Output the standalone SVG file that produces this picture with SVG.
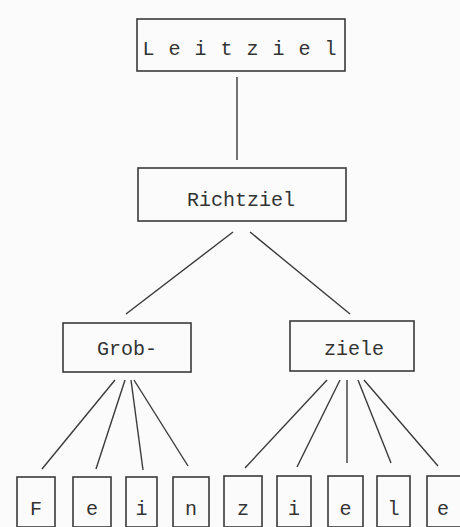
<svg xmlns="http://www.w3.org/2000/svg" width="460" height="527" viewBox="0 0 460 527">
<style>
rect{fill:none;stroke:#3a3a3a;stroke-width:1.6}
line{stroke:#3a3a3a;stroke-width:1.4}
text{font-family:"Liberation Mono","Courier New",monospace;font-size:20px;fill:#333;text-anchor:middle}
</style>
<rect x="0" y="0" width="460" height="527" style="fill:#fbfbfb;stroke:none"/>
<g id="connectors">
<line x1="237" y1="77" x2="237" y2="160"/>
<line x1="233" y1="232" x2="126" y2="314"/>
<line x1="250" y1="232" x2="350" y2="314"/>
<line x1="115" y1="380" x2="42" y2="469"/>
<line x1="125" y1="380" x2="96" y2="469"/>
<line x1="131" y1="380" x2="143" y2="470"/>
<line x1="134" y1="380" x2="188" y2="466"/>
<line x1="327" y1="380" x2="245" y2="468"/>
<line x1="340" y1="380" x2="297" y2="467"/>
<line x1="347" y1="380" x2="347" y2="463"/>
<line x1="358" y1="380" x2="391" y2="463"/>
<line x1="364" y1="380" x2="438" y2="466"/>
</g>
<g id="leitziel"><rect x="137" y="19" width="208" height="52"/><text x="240" y="55" style="letter-spacing:1px">L e i t z i e l</text></g>
<g id="richtziel"><rect x="138" y="168" width="208" height="53"/><text x="241" y="206">Richtziel</text></g>
<g id="grob"><rect x="63" y="323" width="128" height="49"/><text x="127" y="355">Grob-</text></g>
<g id="ziele"><rect x="290" y="321" width="124" height="50"/><text x="354" y="355">ziele</text></g>
<g id="b1"><rect x="17" y="477" width="38" height="50"/><text x="36" y="515">F</text></g>
<g id="b2"><rect x="73" y="477" width="38" height="50"/><text x="92" y="515">e</text></g>
<g id="b3"><rect x="126" y="477" width="31" height="50"/><text x="141.5" y="515">i</text></g>
<g id="b4"><rect x="173" y="477" width="36" height="50"/><text x="191" y="515">n</text></g>
<g id="b5"><rect x="224" y="476" width="38" height="51"/><text x="243" y="515">z</text></g>
<g id="b6"><rect x="277" y="476" width="34" height="51"/><text x="294" y="515">i</text></g>
<g id="b7"><rect x="328" y="476" width="35" height="51"/><text x="345.5" y="515">e</text></g>
<g id="b8"><rect x="377" y="476" width="33" height="51"/><text x="393.5" y="515">l</text></g>
<g id="b9"><rect x="427" y="476" width="36" height="51"/><text x="443" y="515">e</text></g>
</svg>
